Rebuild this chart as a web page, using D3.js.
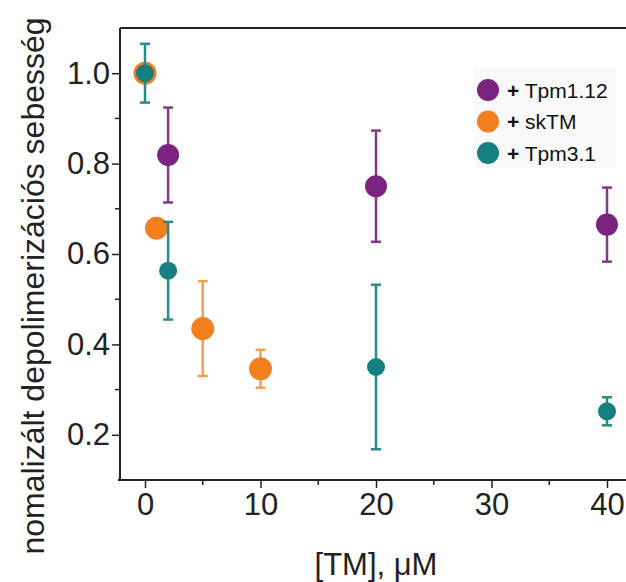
<!DOCTYPE html>
<html>
<head>
<meta charset="utf-8">
<script src="https://cdn.jsdelivr.net/npm/d3@7"></script>
<style>
  body { margin: 0; background: #fff; }
  svg { display: block; font-family: "Liberation Sans", Arial, sans-serif; }
</style>
</head>
<body>
<div id="chart"></div>
<script>
// data
const seriesNames = ["+ Tpm1.12", "+ skTM", "+ Tpm3.1"];
const seriesColors = ["#7a237f", "#f2801f", "#15807f"];
const barColors = ["#7e3a84", "#f0a050", "#2a8a86"];
const radii = [11, 11.5, 9];

const tpm112X = [0, 2, 20, 40];
const tpm112Y = [1.0, 0.819, 0.750, 0.665];
const tpm112Err = [0, 0.105, 0.123, 0.082];

const sktmX = [0, 1, 5, 10];
const sktmY = [1.0, 0.657, 0.435, 0.346];
const sktmErr = [0, 0.02, 0.105, 0.042];

const tpm31X = [0, 2, 20, 40];
const tpm31Y = [1.0, 0.563, 0.350, 0.252];
const tpm31Err = [0.065, 0.108, 0.182, 0.031];

const xTicks = [0, 10, 20, 30, 40];
const xMinor = [5, 15, 25, 35];
const yTicks = [0.2, 0.4, 0.6, 0.8, 1.0];
const yMinor = [0.3, 0.5, 0.7, 0.9];

const yTitle = "nomalizált depolimerizációs sebesség";
const xTitle = "[TM], μM";

const W = 626, H = 582;
const mLeft = 120, mTop = 28, mBottom = 480;

const svg = d3.select("#chart").append("svg")
  .attr("width", W).attr("height", H);

const x = d3.scaleLinear().domain([-2.165, 41.645]).range([mLeft, W]);
const y = d3.scaleLinear().domain([0.1, 1.1]).range([mBottom, mTop]);

const ink = "#222";

// frame top line
svg.append("line")
  .attr("x1", mLeft).attr("x2", W).attr("y1", mTop).attr("y2", mTop)
  .attr("stroke", ink).attr("stroke-width", 2);

// y axis
const yAxis = svg.append("g").attr("transform", `translate(${mLeft},0)`)
  .call(d3.axisLeft(y).tickValues(yTicks).tickFormat(d3.format(".1f")).tickSize(8).tickSizeOuter(0));
yAxis.select(".domain").attr("stroke", ink).attr("stroke-width", 2)
  .attr("d", `M0,${mTop}V${mBottom + 1}`);
yAxis.selectAll(".tick line").attr("stroke", ink).attr("stroke-width", 1.5);
yAxis.selectAll(".tick text").attr("font-size", 31).attr("fill", ink)
  .attr("font-family", "Liberation Sans, Arial, sans-serif").attr("x", -10);
yAxis.selectAll(".minor").data(yMinor).enter().append("line")
  .attr("x1", -5).attr("x2", 0).attr("y1", d => y(d)).attr("y2", d => y(d))
  .attr("stroke", ink).attr("stroke-width", 1.5);

// x axis
const xAxis = svg.append("g").attr("transform", `translate(0,${mBottom})`)
  .call(d3.axisBottom(x).tickValues(xTicks).tickSize(8).tickSizeOuter(0));
xAxis.select(".domain").attr("stroke", ink).attr("stroke-width", 2)
  .attr("d", `M${mLeft - 2},0H${W}`);
xAxis.selectAll(".tick line").attr("stroke", ink).attr("stroke-width", 1.5);
xAxis.selectAll(".tick text").attr("font-size", 31).attr("fill", ink)
  .attr("font-family", "Liberation Sans, Arial, sans-serif").attr("y", 13);
xAxis.selectAll(".minor").data(xMinor).enter().append("line")
  .attr("x1", d => x(d)).attr("x2", d => x(d)).attr("y1", 0).attr("y2", 5)
  .attr("stroke", ink).attr("stroke-width", 1.5);

// titles
svg.append("text")
  .attr("transform", `translate(44,${(H - 10) / 2}) rotate(-90)`)
  .attr("text-anchor", "middle").attr("font-size", 32).attr("fill", ink)
  .text(yTitle);
svg.append("text")
  .attr("x", 376).attr("y", 575)
  .attr("text-anchor", "middle").attr("font-size", 31).attr("fill", ink)
  .text(xTitle);

// series
const series = [
  { xs: tpm112X, ys: tpm112Y, es: tpm112Err },
  { xs: sktmX, ys: sktmY, es: sktmErr },
  { xs: tpm31X, ys: tpm31Y, es: tpm31Err }
];

series.forEach((s, i) => {
  const pts = s.xs.map((v, j) => ({ x: v, y: s.ys[j], e: s.es[j] }));
  const g = svg.append("g");
  const eb = pts.filter(p => p.e > 0);
  g.selectAll(".bar").data(eb).enter().append("line")
    .attr("x1", d => x(d.x)).attr("x2", d => x(d.x))
    .attr("y1", d => y(d.y + d.e)).attr("y2", d => y(d.y - d.e))
    .attr("stroke", barColors[i]).attr("stroke-width", 2.5);
  [1, -1].forEach(sg => {
    g.selectAll(".cap" + sg).data(eb).enter().append("line")
      .attr("x1", d => x(d.x) - 5).attr("x2", d => x(d.x) + 5)
      .attr("y1", d => y(d.y + sg * d.e)).attr("y2", d => y(d.y + sg * d.e))
      .attr("stroke", barColors[i]).attr("stroke-width", 2.5);
  });
  g.selectAll("circle").data(pts).enter().append("circle")
    .attr("cx", d => x(d.x)).attr("cy", d => y(d.y))
    .attr("r", radii[i]).attr("fill", seriesColors[i]);
});

// legend
const lg = svg.append("g");
lg.append("rect").attr("x", 474).attr("y", 68).attr("width", 142).attr("height", 100)
  .attr("fill", "#f9f9f9");
seriesNames.forEach((name, i) => {
  const cy = 90 + i * 31.5;
  lg.append("circle").attr("cx", 488).attr("cy", cy).attr("r", 11)
    .attr("fill", seriesColors[i]);
  const t = lg.append("text").attr("x", 507).attr("y", cy + 7.5)
    .attr("font-size", 21).attr("fill", "#111");
  t.append("tspan").attr("font-weight", "bold").text(name.slice(0, 1));
  t.append("tspan").text(name.slice(1));
});
</script>
</body>
</html>
